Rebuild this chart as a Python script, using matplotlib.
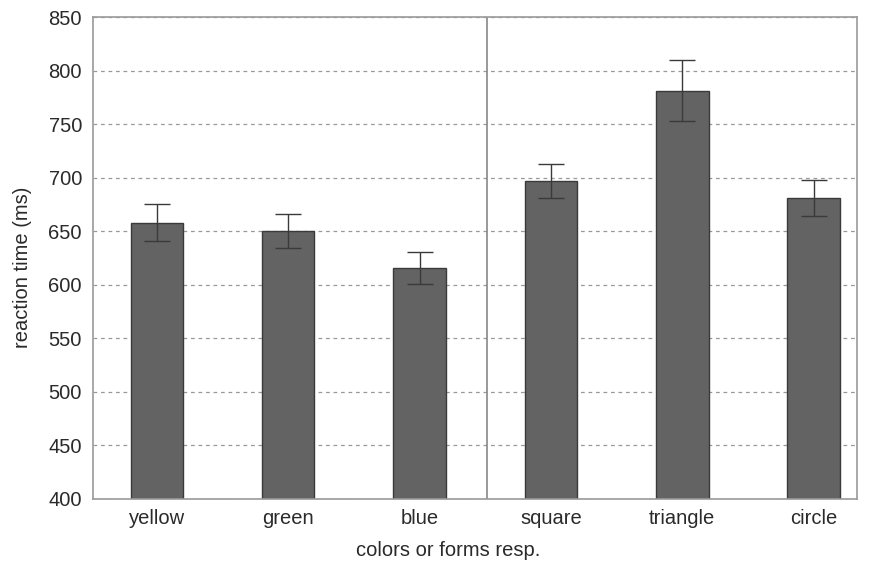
import matplotlib
matplotlib.use('Agg')
import matplotlib.pyplot as plt
import numpy as np

# data
labels = ['yellow', 'green', 'blue', 'square', 'triangle', 'circle']
means = [658, 650, 616, 697, 781, 681]
errors = [17.5, 16, 15, 16, 28.5, 16.5]

plt.rcParams['font.family'] = ['Liberation Sans', 'DejaVu Sans']

def main():
    fig = plt.figure(figsize=(8.72, 5.66), dpi=100)
    ax = fig.add_axes([93/872, 1 - 499/566, (857 - 93)/872, (499 - 17)/566])

    x = np.arange(len(labels))
    ax.bar(x, [m - 400 for m in means], 0.4, bottom=400,
           color='#636363', edgecolor='#3a3a3a', linewidth=1, zorder=2)
    ax.errorbar(x, means, yerr=errors, fmt='none', ecolor='#3a3a3a',
                elinewidth=1, capsize=9.5, capthick=1, zorder=3)

    ax.axvline(2.51, color='#888888', linewidth=1.2, zorder=1)

    ax.set_xlim(-0.486, 5.33)
    ax.set_ylim(400, 850)
    ax.set_yticks(range(400, 851, 50))
    ax.set_xticks(x)
    ax.set_xticklabels(labels)

    ax.grid(True, axis='y', linestyle=(0, (3, 3)), color='#999999', linewidth=0.9, zorder=0)
    ax.set_axisbelow(True)

    for s in ax.spines.values():
        s.set_color('#9a9a9a')
        s.set_linewidth(1.2)

    ax.tick_params(axis='both', length=0, labelsize=14.5, labelcolor='#2a2a2a')
    ax.tick_params(axis='y', pad=8)
    ax.tick_params(axis='x', pad=7)

    # axis titles, placed where the reference has them
    fig.text(448/872, 1 - 551/566, 'colors or forms resp.', fontsize=14.5,
             color='#2a2a2a', ha='center', va='center')
    fig.text(22/872, 1 - 267/566, 'reaction time (ms)', fontsize=14.5,
             color='#2a2a2a', ha='center', va='center', rotation=90)

    fig.savefig('out.png', dpi=100)

if __name__ == '__main__':
    main()
